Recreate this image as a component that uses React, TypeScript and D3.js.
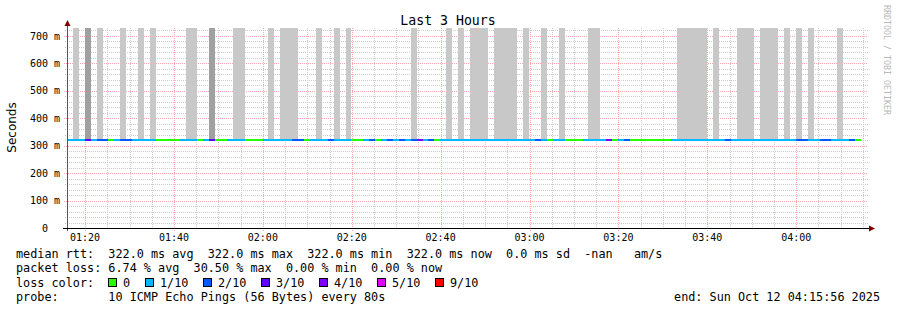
import React from "react";
import * as d3 from "d3";

// ---- data ----
const titleText = "Last 3 Hours";
const yAxisTitle = "Seconds";
const watermark = "RRDTOOL / TOBI OETIKER";
const endTime = new Date(Date.UTC(2025, 9, 12, 4, 15, 56));
const spanSeconds = 3 * 3600;
const stepSeconds = 80;
const medianRttSeconds = 0.322;
const yMaxSeconds = 0.729;

// lost pings (out of 10) for each 80 s step, left to right
const lossPerStep = [
  1, 1, 1, 3, 1, 2, 2, 0, 1, 2,
  2, 1, 1, 1, 1, 0, 0, 0, 0, 1,
  1, 1, 0, 1, 3, 0, 0, 1, 1, 1,
  0, 0, 0, 1, 1, 1, 1, 1, 2, 2,
  0, 1, 1, 1, 2, 1, 1, 1, 0, 0,
  1, 2, 0, 1, 2, 1, 2, 1, 2, 4,
  1, 2, 0, 1, 1, 1, 1, 1, 1, 1,
  1, 1, 1, 1, 1, 1, 1, 1, 1, 2,
  1, 0, 1, 1, 0, 0, 0, 1, 1, 1,
  1, 4, 0, 1, 2, 0, 0, 0, 0, 0,
  0, 0, 1, 1, 1, 1, 1, 1, 1, 1,
  1, 2, 1, 1, 1, 1, 1, 1, 1, 1,
  1, 1, 1, 2, 2, 1, 1, 2, 2, 1,
  1, 1, 2, 0,
];

// steps with full-height smoke
const lightSmokeSteps = [
  1, 5, 9, 12, 14, 20, 21, 28, 29, 34, 36, 37, 38, 42, 45, 47, 58, 64, 66,
  68, 69, 70, 72, 73, 74, 75, 77, 80, 83, 88, 89, 103, 104, 105, 106, 107,
  109, 113, 114, 115, 117, 118, 119, 121, 123, 125, 130,
];
const darkSmokeSteps = [3, 24];

const yTickValues = [0, 0.1, 0.2, 0.3, 0.4, 0.5, 0.6, 0.7];
const yTickLabels = ["0", "100 m", "200 m", "300 m", "400 m", "500 m", "600 m", "700 m"];

const lossLabels = ["0", "1/10", "2/10", "3/10", "4/10", "5/10", "9/10"];
const lossCounts = [0, 1, 2, 3, 4, 5, 9];
const lossColors = ["#26ff00", "#00b8ff", "#0059ff", "#5e00ff", "#7e00ff", "#dd00ff", "#ff0000"];

const statLine1 =
  "median rtt:  322.0 ms avg  322.0 ms max  322.0 ms min  322.0 ms now  0.0 ms sd  -nan   am/s";
const statLine2 = "packet loss: 6.74 % avg  30.50 % max  0.00 % min  0.00 % now";
const statLine3 = "loss color:";
const statLine4 = "probe:       10 ICMP Echo Pings (56 Bytes) every 80s";
const endLabel = "end: Sun Oct 12 04:15:56 2025";

// ---- layout ----
const W = 897;
const H = 310;
const plotLeft = 67;
const plotRight = 867;
const plotTop = 28;
const plotBottom = 228;
const mono = "'DejaVu Sans Mono', monospace";

function colorForLoss(n: number): string {
  let idx = 0;
  for (let i = 0; i < lossCounts.length; i++) {
    if (n >= lossCounts[i]) idx = i;
  }
  return lossColors[idx];
}

export default function App() {
  const startTime = new Date(endTime.getTime() - spanSeconds * 1000);
  const x = d3.scaleUtc().domain([startTime, endTime]).range([plotLeft, plotRight]);
  const y = d3.scaleLinear().domain([0, yMaxSeconds]).range([plotBottom, plotTop]);
  const stepTime = (i: number) => new Date(startTime.getTime() + i * stepSeconds * 1000);

  const majorTimes = x.ticks(d3.utcMinute.every(20)!);
  const minorTimes = x
    .ticks(d3.utcMinute.every(5)!)
    .filter((t) => t.getUTCMinutes() % 20 !== 0);
  const fmt = d3.utcFormat("%H:%M");

  const minorY = d3.range(1, 37).map((k) => k * 0.02).filter((v) => Math.abs(v * 10 - Math.round(v * 10)) > 1e-6);

  const medY = Math.round(y(medianRttSeconds));

  const smokeRect = (i: number, fill: string) => {
    const x0 = x(stepTime(i));
    const x1 = x(stepTime(i + 1));
    return (
      <rect key={"s" + i} x={x0} y={plotTop} width={x1 - x0} height={medY - plotTop} fill={fill} shapeRendering="crispEdges" />
    );
  };

  const legendItems: { x: number; label: string; color: string }[] = [];
  let lx = 108;
  lossLabels.forEach((lab, i) => {
    legendItems.push({ x: lx, label: lab, color: lossColors[i] });
    lx += 30 + 7.0 * lab.length;
  });

  const rowY = (r: number) => 258.3 + 14.1 * r;

  return (
    <svg width={W} height={H} style={{ position: "absolute", left: 0, top: 0, background: "#ffffff" }} xmlns="http://www.w3.org/2000/svg">
      <rect x={0} y={0} width={W} height={H} fill="#ffffff" />
      {/* minor grid */}
      <g stroke="#cccccc" strokeWidth={1} strokeDasharray="1,1" shapeRendering="crispEdges">
        {minorY.map((v) => (
          <line key={"my" + v} x1={plotLeft - 2} x2={plotRight + 1} y1={Math.round(y(v)) + 0.5} y2={Math.round(y(v)) + 0.5} />
        ))}
        {minorTimes.map((t) => (
          <line key={"mx" + t.getTime()} x1={Math.round(x(t)) + 0.5} x2={Math.round(x(t)) + 0.5} y1={plotTop} y2={plotBottom + 2} />
        ))}
      </g>
      {/* major grid */}
      <g stroke="#ffa8a8" strokeWidth={1} strokeDasharray="1,1" shapeRendering="crispEdges">
        {yTickValues.slice(1).map((v) => (
          <line key={"My" + v} x1={plotLeft - 3} x2={plotRight + 1} y1={Math.round(y(v)) + 0.5} y2={Math.round(y(v)) + 0.5} />
        ))}
        {majorTimes.map((t) => (
          <line key={"Mx" + t.getTime()} x1={Math.round(x(t)) + 0.5} x2={Math.round(x(t)) + 0.5} y1={plotTop} y2={plotBottom + 3} />
        ))}
      </g>

      {/* smoke */}
      {lightSmokeSteps.map((i) => smokeRect(i, "#c8c8c8"))}
      {darkSmokeSteps.map((i) => smokeRect(i, "#a0a0a0"))}

      {/* median line coloured by loss */}
      {lossPerStep.map((n, i) => {
        const x0 = x(stepTime(i));
        const x1 = x(stepTime(i + 1));
        return (
          <rect key={"m" + i} x={x0} y={medY - 1} width={x1 - x0} height={2} fill={colorForLoss(n)} shapeRendering="crispEdges" />
        );
      })}

      {/* axes */}
      <line x1={plotLeft + 0.5} x2={plotLeft + 0.5} y1={plotBottom + 3} y2={24} stroke="#555555" strokeWidth={1} />
      <line x1={plotLeft - 4} x2={plotRight + 3} y1={plotBottom + 0.5} y2={plotBottom + 0.5} stroke="#000000" strokeWidth={1} />
      <path d={`M${plotLeft - 2.5},${26} L${plotLeft + 0.5},${20} L${plotLeft + 3.5},${26} Z`} fill="#7f0000" />
      <path d={`M${plotRight + 2},${plotBottom - 2.5} L${plotRight + 8},${plotBottom + 0.5} L${plotRight + 2},${plotBottom + 3.5} Z`} fill="#7f0000" />

      {/* tick labels */}
      <g fontFamily={mono} fontSize={10} fill="#000">
        {yTickValues.map((v, i) => (
          <text key={"yl" + i} x={i === 0 ? 48 : 60} y={y(v) + 3.6} textAnchor="end">
            {yTickLabels[i]}
          </text>
        ))}
        {majorTimes.map((t) => (
          <text key={"xl" + t.getTime()} x={x(t)} y={240.5} textAnchor="middle">
            {fmt(t)}
          </text>
        ))}
      </g>

      {/* title */}
      <text x={448} y={24.5} textAnchor="middle" fontFamily={mono} fontSize={13.2} fill="#000">
        {titleText}
      </text>
      {/* y axis title */}
      <text
        transform={`translate(15.5,127.5) rotate(-90)`}
        textAnchor="middle"
        fontFamily="'DejaVu Sans', sans-serif"
        fontSize={12}
        fill="#000"
      >
        {yAxisTitle}
      </text>
      {/* watermark */}
      <text transform={`translate(884,5) rotate(90)`} fontFamily={mono} fontSize={8.3} fill="#b8b8b8">
        {watermark}
      </text>

      {/* legend / stats */}
      <g fontFamily={mono} fontSize={11.8} fill="#000" style={{ whiteSpace: "pre" }}>
        <text x={16} y={rowY(0)} xmlSpace="preserve">{statLine1}</text>
        <text x={16} y={rowY(1)} xmlSpace="preserve">{statLine2}</text>
        <text x={16} y={rowY(2)} xmlSpace="preserve">{statLine3}</text>
        <text x={16} y={rowY(3)} xmlSpace="preserve">{statLine4}</text>
        <text x={880} y={rowY(3)} textAnchor="end" xmlSpace="preserve">{endLabel}</text>
        {legendItems.map((it) => (
          <g key={"lg" + it.label}>
            <rect x={it.x + 0.5} y={278.5} width={8} height={8} fill={it.color} stroke="#000" strokeWidth={1} shapeRendering="crispEdges" />
            <text x={it.x + 15} y={rowY(2)}>{it.label}</text>
          </g>
        ))}
      </g>
    </svg>
  );
}
